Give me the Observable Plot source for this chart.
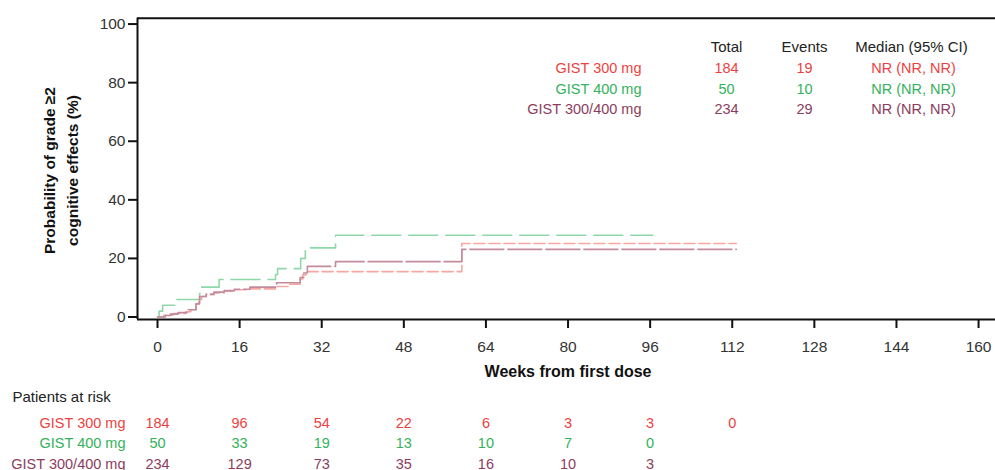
<!DOCTYPE html>
<html><head><meta charset="utf-8">
<script src="https://cdn.jsdelivr.net/npm/d3@7"></script>
<script src="https://cdn.jsdelivr.net/npm/@observablehq/plot@0.6"></script>
<style>body{margin:0;background:#fff;font-family:"Liberation Sans",Arial,sans-serif}</style>
</head><body><div id="chart"></div>
<script>
const groups = ["GIST 300 mg", "GIST 400 mg", "GIST 300/400 mg"];
const textColors = ["#ee3f3f", "#33b25c", "#8c3d5e"];
const lineColors = ["#f5a8a2", "#8fd7a9", "#c28b9c"];
const dashes = ["11,4", "29,8", "34,4"];

const weeks300 = [0, 1.2, 3, 5.5, 6.5, 7.5, 8, 8.6, 9.5, 11, 13, 15, 18, 23.1, 25.5, 27.8, 28.3, 29.2, 59.3, 112.8];
const vals300  = [0, 0.6, 1.2, 1.8, 2.5, 4.5, 6, 7, 7.6, 8.2, 8.8, 9.3, 9.6, 10.4, 11.2, 13, 14.4, 15.5, 25.1, 25.1];
const weeks400 = [0, 0.3, 1.0, 3.5, 8.2, 8.5, 12, 23.0, 23.4, 27.9, 28.8, 34.7, 96.5];
const vals400  = [0, 2, 4, 6, 8, 10.2, 12.8, 14.5, 16.5, 20, 23.6, 27.9, 27.9];
const weeksAll = [0, 1.5, 2.5, 4, 6, 7.5, 8.2, 9.5, 11, 13, 15, 18, 23.2, 27.8, 28.5, 29.2, 34.7, 59.3, 112.8];
const valsAll  = [0, 0.5, 1, 1.5, 2.5, 4.5, 7, 7.8, 8.5, 9, 9.5, 10.2, 11.7, 13.5, 15, 17.3, 18.9, 23.1, 23.1];

const xTicks = [0, 16, 32, 48, 64, 80, 96, 112, 128, 144, 160];
const yTicks = [0, 20, 40, 60, 80, 100];
const riskWeeks = [0, 16, 32, 48, 64, 80, 96, 112];
const risk300 = [184, 96, 54, 22, 6, 3, 3, 0];
const risk400 = [50, 33, 19, 13, 10, 7, 0];
const riskAll = [234, 129, 73, 35, 16, 10, 3];

const totals = ["184", "50", "234"];
const events = ["19", "10", "29"];
const medians = ["NR (NR, NR)", "NR (NR, NR)", "NR (NR, NR)"];

const series = [[weeks300, vals300], [weeks400, vals400], [weeksAll, valsAll]];
const riskRows = [risk300, risk400, riskAll];

const xDom = [-3.9, 163.3];
const yDom = [-0.85, 102];

const marks = [];
series.forEach(([w, v], i) => {
  marks.push(Plot.line(w.map((d, j) => ({x: d, y: v[j]})), {
    x: "x", y: "y", curve: "step-after", stroke: lineColors[i],
    strokeWidth: 1.6, strokeDasharray: dashes[i]
  }));
});
marks.push(Plot.ruleX([xDom[0]], {stroke: "#111", strokeWidth: 2}));
marks.push(Plot.ruleY([yDom[1]], {stroke: "#111", strokeWidth: 2}));
marks.push(Plot.ruleY([yDom[0]], {stroke: "#111", strokeWidth: 2}));
marks.push(Plot.axisY(yTicks, {anchor: "left", tickSize: 9, tickPadding: 3, strokeWidth: 2, stroke: "#111", fontSize: 15.5, fill: "#333", label: null}));
marks.push(Plot.axisX(xTicks, {anchor: "bottom", tickSize: 9, tickPadding: 12, strokeWidth: 2, stroke: "#111", fontSize: 15.5, fill: "#333", label: null}));
marks.push(Plot.text(["Weeks from first dose"], {x: 80, frameAnchor: "bottom", dy: 57, fontSize: 16, fontWeight: "bold", fill: "#111"}));
marks.push(Plot.text(["Probability of grade \u22652"], {frameAnchor: "left", dx: -87, y: 50, rotate: -90, textAnchor: "middle", fontSize: 15.5, fontWeight: "bold", fill: "#111"}));
marks.push(Plot.text(["cognitive effects (%)"], {frameAnchor: "left", dx: -64, y: 50, rotate: -90, textAnchor: "middle", fontSize: 15.5, fontWeight: "bold", fill: "#111"}));
const hdrY = 23;
const T = (s, o) => Plot.text([s], {frameAnchor: "top-left", textAnchor: "middle", ...o});
marks.push(T("Total", {dx: 726 - 137, dy: hdrY, fontSize: 15, fill: "#222"}));
marks.push(T("Events", {dx: 804 - 137, dy: hdrY, fontSize: 15, fill: "#222"}));
marks.push(T("Median (95% CI)", {dx: 911 - 137, dy: hdrY, fontSize: 15, fill: "#222"}));
groups.forEach((g, i) => {
  const dy = 45 + i * 20.3;
  marks.push(T(g, {dx: 641 - 137, dy, textAnchor: "end", fontSize: 14.5, fill: textColors[i]}));
  marks.push(T(totals[i], {dx: 726 - 137, dy, fontSize: 14.5, fill: textColors[i]}));
  marks.push(T(events[i], {dx: 804 - 137, dy, fontSize: 14.5, fill: textColors[i]}));
  marks.push(T(medians[i], {dx: 913 - 137, dy, fontSize: 14.5, fill: textColors[i]}));
});
marks.push(Plot.text(["Patients at risk"], {frameAnchor: "bottom-left", dx: 12 - 137, dy: 82, textAnchor: "start", fontSize: 15, fill: "#222"}));
groups.forEach((g, i) => {
  const dy = 108 + i * 20.5;
  marks.push(Plot.text([g], {frameAnchor: "bottom-left", dx: 125 - 137, dy, textAnchor: "end", fontSize: 14.5, fill: textColors[i]}));
  const row = riskRows[i];
  marks.push(Plot.text(row.map((n, j) => ({x: riskWeeks[j], n})), {
    x: "x", text: (d) => String(d.n), frameAnchor: "bottom", dy, fontSize: 14.5, fill: textColors[i]
  }));
});

const chart = Plot.plot({
  width: 995, height: 470,
  marginLeft: 137, marginRight: 0, marginTop: 17.7, marginBottom: 151,
  style: {fontFamily: "'Liberation Sans', Arial, sans-serif", background: "#fff"},
  x: {domain: xDom, axis: null},
  y: {domain: yDom, axis: null},
  marks
});
document.getElementById("chart").appendChild(chart);
</script>
</body></html>
